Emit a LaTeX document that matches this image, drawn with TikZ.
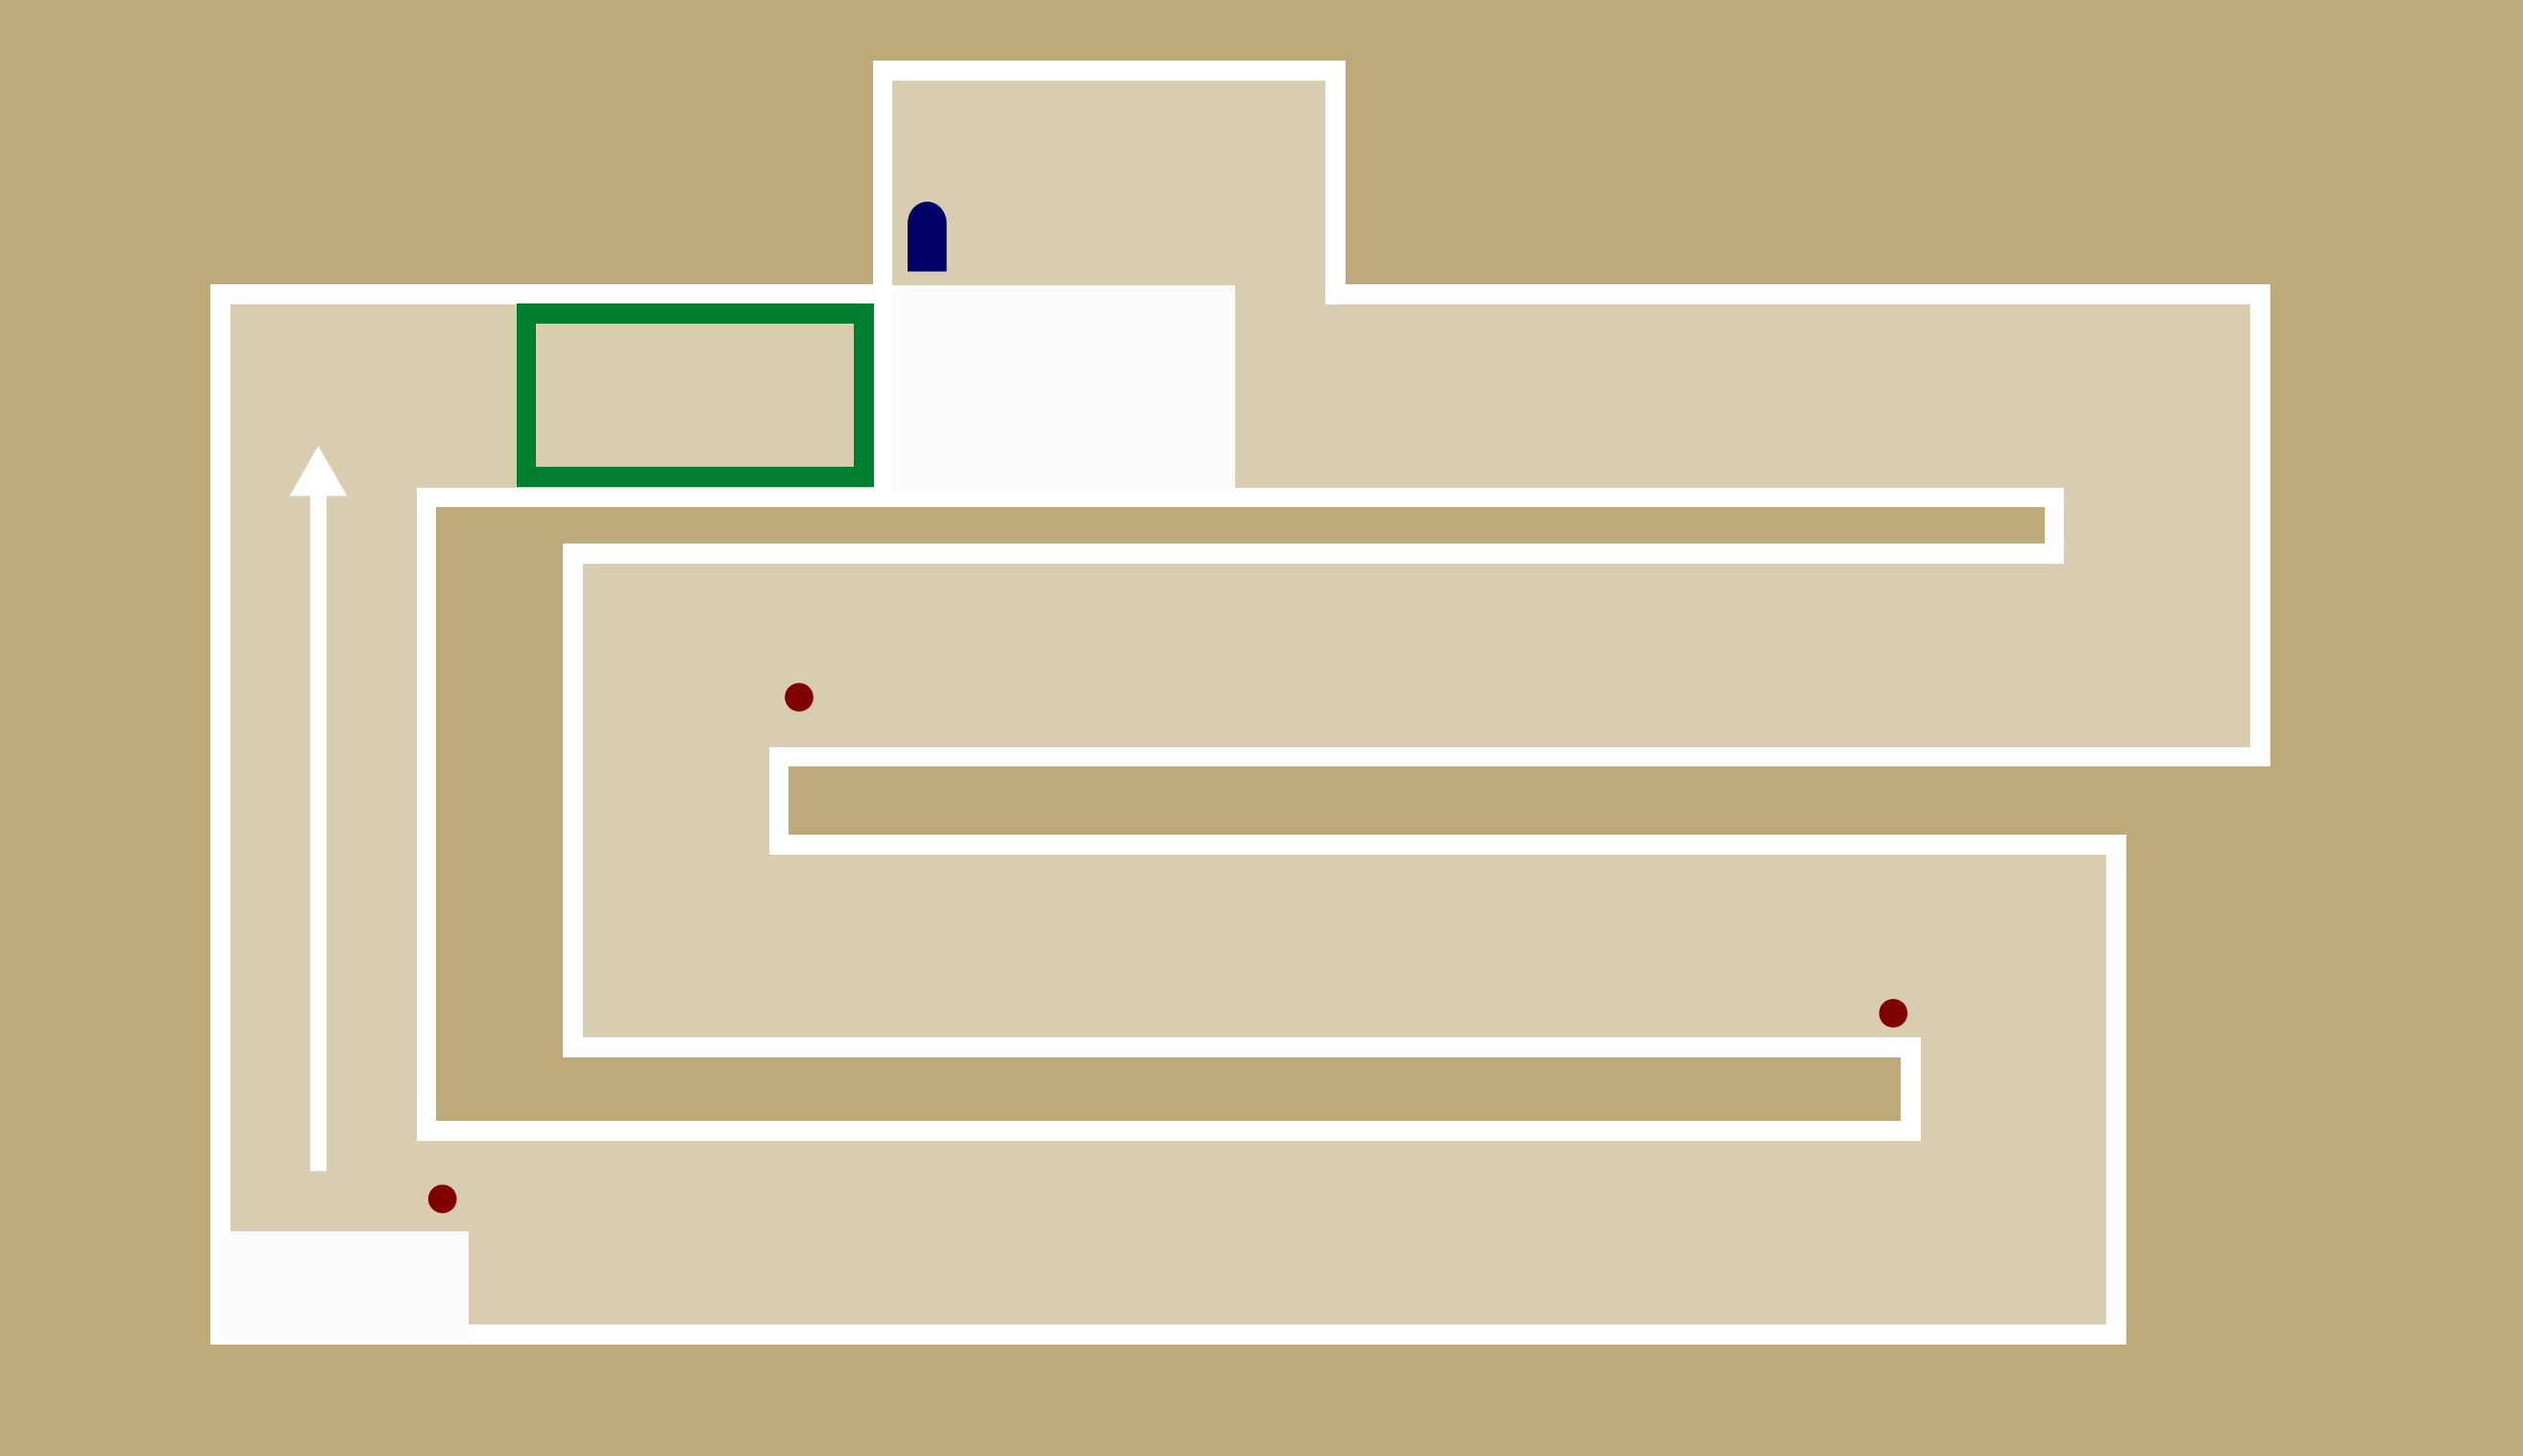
\documentclass[tikz,border=0pt]{standalone}

\definecolor{ground}{HTML}{BDA97A}
\definecolor{floorcol}{HTML}{D8CCB1}
\definecolor{roomcol}{HTML}{FCFCFC}
\definecolor{framecol}{HTML}{00802F}
\definecolor{doorcol}{HTML}{000066}
\definecolor{markcol}{HTML}{800000}

\tikzset{
  wall/.style = {draw = white, line width = 0.207cm},
  hazard/.style = {fill = markcol},
}

\begin{document}
\begin{tikzpicture}
    \useasboundingbox (0, 0) rectangle (26.27, 15.16);
    \fill[ground] (0, 0) rectangle (26.27, 15.16);

    \path[wall, fill = floorcol]
      (2.297, 12.093) -- (9.19, 12.093) -- (9.19, 14.423)
      -- (13.905, 14.423) -- (13.905, 12.093) -- (23.533, 12.093)
      -- (23.533, 7.28) -- (8.11, 7.28) -- (8.11, 6.367)
      -- (22.033, 6.367) -- (22.033, 1.267) -- (2.297, 1.267)
      -- cycle;

    \path[wall, fill = ground]
      (4.44, 9.98) -- (21.39, 9.98) -- (21.39, 9.393)
      -- (5.967, 9.393) -- (5.967, 4.253) -- (19.892, 4.253)
      -- (19.892, 3.385) -- (4.44, 3.385)
      -- cycle;

    \path[wall] (9.19, 12.093) -- (9.19, 9.98);

    \fill[roomcol] (9.293, 12.187) rectangle (12.86, 10.03);
    \fill[roomcol] (2.293, 2.34) rectangle (4.883, 1.2);

    \draw[framecol, line width = 0.207cm] (5.48, 11.897) rectangle (8.993, 10.198);

    \fill[doorcol]
      (9.45, 12.333) -- (9.45, 12.83)
      arc (180 : 0 : 0.2035 and 0.23)
      -- (9.857, 12.333)
      -- cycle;

    \fill[hazard] (8.32, 7.9) circle (0.148);
    \fill[hazard] (19.713, 4.61) circle (0.148);
    \fill[hazard] (4.607, 2.677) circle (0.148);

    \fill[white]
      (3.228, 2.967) -- (3.228, 9.997) -- (3.017, 9.997)
      -- (3.313, 10.517)
      -- (3.613, 9.997) -- (3.398, 9.997) -- (3.398, 2.967)
      -- cycle;

  \end{tikzpicture}
\end{document}
